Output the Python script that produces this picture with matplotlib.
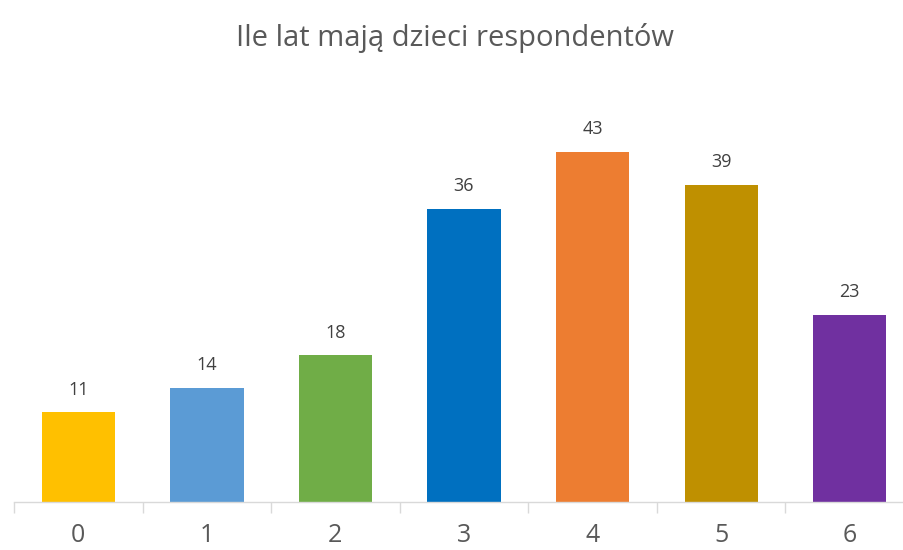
import matplotlib
matplotlib.use("Agg")
import matplotlib.pyplot as plt

categories = ["0", "1", "2", "3", "4", "5", "6"]
values = [11, 14, 18, 36, 43, 39, 23]
colors = ["#FFC000", "#5B9BD5", "#70AD47", "#0070C0", "#ED7D31", "#BF9000", "#7030A0"]
title = "Ile lat mają dzieci respondentów"

plt.rcParams['font.family'] = ['Open Sans', 'DejaVu Sans']

W, H = 904, 550
fig = plt.figure(figsize=(W/100, H/100), dpi=100)
left, right = 14, 914
bottom, top = 502, 100
ax = fig.add_axes([left/W, (H-bottom)/H, (right-left)/W, (bottom-top)/H])
ax.set_xlim(-0.5, len(categories)-0.5)
ax.set_ylim(0, (bottom-top)/8.14)

x = list(range(len(categories)))
ax.bar(x, values, width=0.57, color=colors, zorder=2)
for xi, v in zip(x, values):
    ax.annotate(str(v), (xi, v), xytext=(0, 10), textcoords="offset points",
                ha="center", va="bottom", fontsize=13, color="#404040")

for s in ["top", "right", "left"]:
    ax.spines[s].set_visible(False)
ax.spines["bottom"].set_color("#D9D9D9")
ax.spines["bottom"].set_linewidth(1.0)
ax.spines["bottom"].set_clip_on(False)
ax.set_yticks([])
ax.set_xticks(x)
ax.set_xticklabels(categories, fontsize=18, color="#595959")
ax.tick_params(axis="x", which="major", length=0, pad=15)
ax.set_xticks([i - 0.5 for i in range(len(categories)+1)], minor=True)
ax.tick_params(axis="x", which="minor", length=8, color="#D9D9D9", width=1.0)

fig.text(455/W, 1 - 38/H, title, ha="center", va="center", fontsize=21, color="#595959")

fig.savefig("out.png", dpi=100)
